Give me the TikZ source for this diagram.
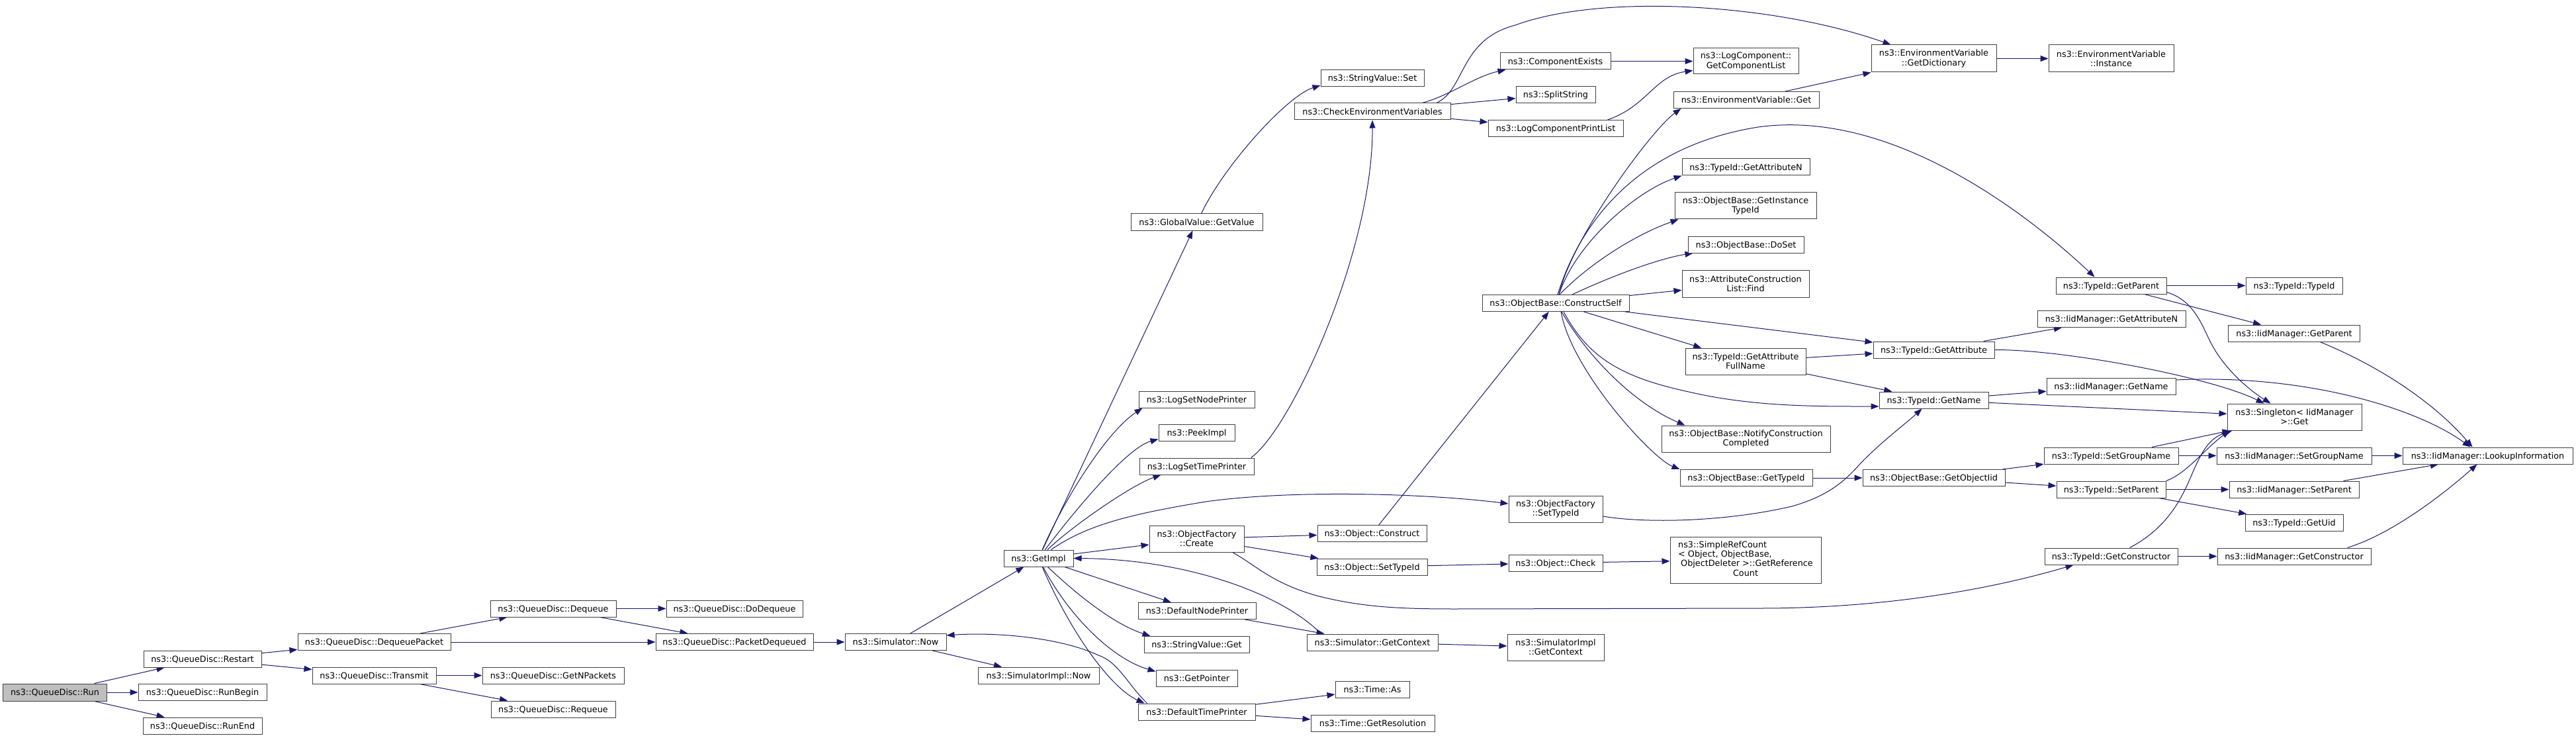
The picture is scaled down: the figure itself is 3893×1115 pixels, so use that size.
\documentclass[tikz,border=0pt]{standalone}
\usepackage{fontspec}
\setmainfont{DejaVu Sans}
\usetikzlibrary{arrows.meta,calc}
\definecolor{edgeblue}{HTML}{191970}
\definecolor{nodegray}{HTML}{404040}
\definecolor{rootfill}{HTML}{BFBFBF}
\newcommand\fnt{\fontsize{12.8}{14.2}\selectfont}
\pgfdeclarelayer{edgelayer}
\pgfsetlayers{edgelayer,main}
\tikzset{
  fnode/.style={draw=nodegray, line width=1pt, fill=white, inner xsep=2pt, inner ysep=0pt,
    minimum height=25pt, font=\fnt, text height=9.3pt, text depth=0pt},
  fnodem/.style={draw=nodegray, line width=1pt, fill=white, inner xsep=2pt, inner ysep=0pt,
    minimum height=40pt, font=\fnt, align=center},
  wd/.style={minimum width=#1},
  callarrow/.style={draw=edgeblue, line width=1pt, -{Triangle[length=12pt,width=9pt]}}
}
\begin{document}
\begin{tikzpicture}[x=1pt,y=-1pt]
\useasboundingbox (0,0) rectangle (3893,1115);
% ---------- nodes ----------
\node[fnode,wd=157,fill=rootfill,minimum height=26pt] (Run) at (83,1046) {ns3::QueueDisc::Run};
\node[fnode,wd=178] (Restart) at (306,995.5) {ns3::QueueDisc::Restart};
\node[fnode,wd=194] (RunBegin) at (306,1046) {ns3::QueueDisc::RunBegin};
\node[fnode,wd=180] (RunEnd) at (306,1096.5) {ns3::QueueDisc::RunEnd};
\node[fnode,wd=231] (DequeuePacket) at (565.5,970) {ns3::QueueDisc::DequeuePacket};
\node[fnode,wd=187] (Transmit) at (565.5,1020.5) {ns3::QueueDisc::Transmit};
\node[fnode,wd=190] (Dequeue) at (836,919.5) {ns3::QueueDisc::Dequeue};
\node[fnode,wd=214] (GetNPackets) at (836,1020.5) {ns3::QueueDisc::GetNPackets};
\node[fnode,wd=188] (Requeue) at (836,1071.5) {ns3::QueueDisc::Requeue};
\node[fnode,wd=206] (DoDequeue) at (1110,919.5) {ns3::QueueDisc::DoDequeue};
\node[fnode,wd=238] (PacketDequeued) at (1110,970) {ns3::QueueDisc::PacketDequeued};
\node[fnode,wd=153] (SimNow) at (1353.5,970) {ns3::Simulator::Now};
\node[fnode,wd=105] (GetImpl) at (1569.5,843.5) {ns3::GetImpl};
\node[fnode,wd=183] (SimImplNow) at (1569.5,1020.5) {ns3::SimulatorImpl::Now};
\node[fnode,wd=199] (GVGetValue) at (1808.5,335.5) {ns3::GlobalValue::GetValue};
\node[fnode,wd=175] (LSNP) at (1808.5,603.5) {ns3::LogSetNodePrinter};
\node[fnode,wd=115] (PeekImpl) at (1808.5,653.5) {ns3::PeekImpl};
\node[fnode,wd=173] (LSTP) at (1808.5,704.5) {ns3::LogSetTimePrinter};
\node[fnodem,wd=143] (OFCreate) at (1808.5,814) {ns3::ObjectFactory\\::Create};
\node[fnode,wd=178] (DNP) at (1809,923) {ns3::DefaultNodePrinter};
\node[fnode,wd=159] (SVGet) at (1808.5,974) {ns3::StringValue::Get};
\node[fnode,wd=123] (GetPointer) at (1808.5,1024.5) {ns3::GetPointer};
\node[fnode,wd=177] (DTP) at (1808.5,1075.5) {ns3::DefaultTimePrinter};
\node[fnode,wd=156] (SVSet) at (2074,118) {ns3::StringValue::Set};
\node[fnode,wd=236] (CEV) at (2074,168.5) {ns3::CheckEnvironmentVariables};
\node[fnode,wd=165] (ObjConstruct) at (2073.5,806) {ns3::Object::Construct};
\node[fnode,wd=167] (ObjSetTypeId) at (2073.5,856.5) {ns3::Object::SetTypeId};
\node[fnode,wd=198] (SGC) at (2074,970.5) {ns3::Simulator::GetContext};
\node[fnode,wd=112] (TimeAs) at (2074,1042) {ns3::Time::As};
\node[fnode,wd=187] (TimeGetRes) at (2074.5,1093) {ns3::Time::GetResolution};
\node[fnode,wd=167] (ComponentExists) at (2350.5,92.5) {ns3::ComponentExists};
\node[fnode,wd=120] (SplitString) at (2351,143) {ns3::SplitString};
\node[fnode,wd=204] (LCPL) at (2351,194) {ns3::LogComponentPrintList};
\node[fnode,wd=222] (CS) at (2351,458) {ns3::ObjectBase::ConstructSelf};
\node[fnodem,wd=142] (OFSetTypeId) at (2351,769) {ns3::ObjectFactory\\::SetTypeId};
\node[fnode,wd=142] (ObjCheck) at (2351,850.5) {ns3::Object::Check};
\node[fnodem,wd=146] (SIGetContext) at (2351,978) {ns3::SimulatorImpl\\::GetContext};
\node[fnodem,wd=159,minimum height=39pt] (GCL) at (2638.5,92.5) {ns3::LogComponent::\\GetComponentList};
\node[fnode,wd=220] (EVGet) at (2639,151) {ns3::EnvironmentVariable::Get};
\node[fnode,wd=193] (TIGetAttributeN) at (2638.5,252.5) {ns3::TypeId::GetAttributeN};
\node[fnodem,wd=214] (GITI) at (2638,311) {ns3::ObjectBase::GetInstance\\TypeId};
\node[fnode,wd=175] (DoSet) at (2638.5,369.5) {ns3::ObjectBase::DoSet};
\node[fnodem,wd=192,minimum height=41pt] (ACLFind) at (2638,428.5) {ns3::AttributeConstruction\\List::Find};
\node[fnodem,wd=182] (GAFN) at (2638,546) {ns3::TypeId::GetAttribute\\FullName};
\node[fnodem,wd=255] (NotifyCC) at (2638.5,663) {ns3::ObjectBase::NotifyConstruction\\Completed};
\node[fnode,wd=200] (OBGetTypeId) at (2639,722) {ns3::ObjectBase::GetTypeId};
\node[fnodem,wd=228,minimum height=70pt] (SRC) at (2638,846) {\begin{tabular}{@{}l@{}}ns3::SimpleRefCount\\< Object, ObjectBase,\\\hspace{4pt}ObjectDeleter >::GetReference\\\multicolumn{1}{@{}c@{}}{Count}\end{tabular}};
\node[fnodem,wd=189,minimum height=41pt] (GetDictionary) at (2922.5,88.5) {ns3::EnvironmentVariable\\::GetDictionary};
\node[fnode,wd=183] (TIGetAttribute) at (2922.5,528.5) {ns3::TypeId::GetAttribute};
\node[fnode,wd=165] (TIGetName) at (2922.5,604.5) {ns3::TypeId::GetName};
\node[fnode,wd=215] (GetObjectIid) at (2922.5,722) {ns3::ObjectBase::GetObjectIid};
\node[fnodem,wd=189,minimum height=41pt] (EVInstance) at (3190.5,88.5) {ns3::EnvironmentVariable\\::Instance};
\node[fnode,wd=167] (TIGetParent) at (3190.5,431.5) {ns3::TypeId::GetParent};
\node[fnode,wd=224] (IMGetAttributeN) at (3191,482) {ns3::IidManager::GetAttributeN};
\node[fnode,wd=195] (IMGetName) at (3190.5,583.5) {ns3::IidManager::GetName};
\node[fnode,wd=203] (TISetGroupName) at (3190.5,688.5) {ns3::TypeId::SetGroupName};
\node[fnode,wd=165] (TISetParent) at (3190.5,739.5) {ns3::TypeId::SetParent};
\node[fnode,wd=201] (TIGetConstructor) at (3190.5,840.5) {ns3::TypeId::GetConstructor};
\node[fnode,wd=146] (TITypeId) at (3467,431.5) {ns3::TypeId::TypeId};
\node[fnode,wd=199] (IMGetParent) at (3467,503.5) {ns3::IidManager::GetParent};
\node[fnodem,wd=203] (Singleton) at (3467.5,630) {ns3::Singleton< IidManager\\>::Get};
\node[fnode,wd=234] (IMSetGroupName) at (3467,688.5) {ns3::IidManager::SetGroupName};
\node[fnode,wd=196] (IMSetParent) at (3467,739.5) {ns3::IidManager::SetParent};
\node[fnode,wd=148] (TIGetUid) at (3467,789.5) {ns3::TypeId::GetUid};
\node[fnode,wd=232] (IMGetConstructor) at (3467,840.5) {ns3::IidManager::GetConstructor};
\node[fnode,wd=257] (Lookup) at (3759.5,688.5) {ns3::IidManager::LookupInformation};
% ---------- edges ----------
\begin{pgfonlayer}{edgelayer}
\draw[callarrow] (Run) -- (Restart);
\draw[callarrow] (Run) -- (RunBegin);
\draw[callarrow] (Run) -- (RunEnd);
\draw[callarrow] (Restart) -- (DequeuePacket);
\draw[callarrow] (Restart) -- (Transmit);
\draw[callarrow] (DequeuePacket) -- (Dequeue);
\draw[callarrow] (DequeuePacket) -- (PacketDequeued);
\draw[callarrow] (Transmit) -- (GetNPackets);
\draw[callarrow] (Transmit) -- (Requeue);
\draw[callarrow] (Dequeue) -- (DoDequeue);
\draw[callarrow] (Dequeue) -- (PacketDequeued);
\draw[callarrow] (PacketDequeued) -- (SimNow);
\draw[callarrow] (SimNow) -- (GetImpl);
\draw[callarrow] (SimNow) -- (SimImplNow);
% GetImpl fan
\draw[callarrow] (GetImpl) -- (GVGetValue);
\draw[callarrow] (GetImpl) .. controls (1610,751) and (1673,652) .. ($(LSNP.south west)+(6,0)$);
\draw[callarrow] (GetImpl) .. controls (1617,781) and (1701,677) .. ($(PeekImpl.south west)+(0,-3)$);
\draw[callarrow] (GetImpl) .. controls (1620,795) and (1710,733) .. ($(LSTP.south west)+(33,0)$);
\draw[callarrow] (GetImpl) .. controls (1640,795) and (1700,778) .. (1822,758) .. controls (1950,740) and (2150,745) .. ($(OFSetTypeId.west)+(0,-8)$);
\draw[callarrow] (GetImpl) -- (OFCreate);
\draw[callarrow] (GetImpl) -- (DNP);
\draw[callarrow] (GetImpl) .. controls (1640,910) and (1690,945) .. ($(SVGet.north west)+(10,0)$);
\draw[callarrow] (GetImpl) .. controls (1615,930) and (1680,995) .. ($(GetPointer.north west)+(0,3)$);
\draw[callarrow] (GetImpl) .. controls (1620,960) and (1680,1040) .. ($(DTP.north west)+(10,0)$);
\draw[callarrow] ($(DTP.north west)+(14,0)$) .. controls (1705,1035) and (1690,1000) .. (1660,990) .. controls (1600,962) and (1500,955) .. ($(SimNow.east)+(0,-10)$);
\draw[callarrow] ($(SGC.north west)+(22,0)$) .. controls (1940,900) and (1800,845) .. (GetImpl.east);
\draw[callarrow] (DNP) -- (SGC);
\draw[callarrow] (DTP) -- (TimeAs);
\draw[callarrow] (DTP) -- (TimeGetRes);
\draw[callarrow] (OFCreate) -- (ObjConstruct);
\draw[callarrow] (OFCreate) -- (ObjSetTypeId);
\draw[callarrow] ($(OFCreate.south east)+(-18,0)$) .. controls (1900,855) and (1920,880) .. (1990,900) .. controls (2060,918) and (2120,920) .. (2200,920) -- (2660,919) .. controls (2850,919) and (3010,890) .. ($(TIGetConstructor.south west)+(44,0)$);
\draw[callarrow] ($(GVGetValue.north)+(7,0)$) .. controls (1850,250) and (1945,145) .. ($(SVSet.south west)+(0,-2)$);
\draw[callarrow] ($(LSTP.north east)+(-5,0)$) .. controls (1950,650) and (2075,380) .. (CEV.south);
\draw[callarrow] (ObjSetTypeId) -- (ObjCheck);
\draw[callarrow] (ObjCheck) -- (SRC);
\draw[callarrow] (SGC) -- (SIGetContext);
\draw[callarrow] (ObjConstruct) -- (CS);
% CheckEnvironmentVariables
\draw[callarrow] ($(CEV.north)+(97,0)$) .. controls (2215,135) and (2205,60) .. (2290,38) .. controls (2420,-10) and (2680,5) .. ($(GetDictionary.north west)+(30,0)$);
\draw[callarrow] ($(CEV.north)+(75,0)$) .. controls (2190,145) and (2230,115) .. ($(ComponentExists.south west)+(9,0)$);
\draw[callarrow] (CEV) -- (SplitString);
\draw[callarrow] (CEV) -- (LCPL);
\draw[callarrow] (ComponentExists) -- (GCL);
\draw[callarrow] ($(LCPL.north east)+(-24,0)$) .. controls (2490,160) and (2500,115) .. ($(GCL.west)+(0,14)$);
\draw[callarrow] (EVGet) -- (GetDictionary);
\draw[callarrow] (GetDictionary) -- (EVInstance);
% ConstructSelf
\draw[callarrow] ($(CS.north)+(5,0)$) .. controls (2375,360) and (2496,196) .. ($(EVGet.south west)+(12,0)$);
\draw[callarrow] ($(CS.north)+(3,0)$) .. controls (2390,330) and (2480,220) .. (2657,192) .. controls (2850,165) and (3050,310) .. ($(TIGetParent.north)+(-25,0)$);
\draw[callarrow] ($(CS.north)+(5,0)$) .. controls (2380,370) and (2470,290) .. (TIGetAttributeN.south west);
\draw[callarrow] ($(CS.north)+(6,0)$) .. controls (2400,400) and (2470,355) .. ($(GITI.south west)+(6,0)$);
\draw[callarrow] ($(CS.north)+(25,0)$) .. controls (2440,415) and (2510,390) .. ($(DoSet.south west)+(8,0)$);
\draw[callarrow] (CS) -- (ACLFind);
\draw[callarrow] (CS) -- (TIGetAttribute);
\draw[callarrow] (CS) -- (GAFN);
\draw[callarrow] ($(CS.south)+(8,0)$) .. controls (2375,560) and (2496,692) .. (OBGetTypeId.north west);
\draw[callarrow] ($(CS.south)+(9,0)$) .. controls (2400,540) and (2470,610) .. ($(NotifyCC.north west)+(36,0)$);
\draw[callarrow] ($(CS.south)+(12,0)$) .. controls (2400,540) and (2450,570) .. (2552,592) .. controls (2650,615) and (2750,614) .. ($(TIGetName.west)+(0,9.5)$);
\draw[callarrow] (OBGetTypeId) -- (GetObjectIid);
\draw[callarrow] ($(OFSetTypeId.east)+(0,11)$) .. controls (2480,790) and (2600,790) .. (2708,765) .. controls (2760,750) and (2785,730) .. (2810,702) .. controls (2840,670) and (2880,640) .. ($(TIGetName.south)+(-18,0)$);
% right part
\draw[callarrow] (GAFN) -- (TIGetAttribute);
\draw[callarrow] (GAFN) -- (TIGetName);
\draw[callarrow] (TIGetAttribute) -- (IMGetAttributeN);
\draw[callarrow] (TIGetAttribute.east) .. controls (3120,528) and (3342,570) .. ($(Singleton.north west)+(56,0)$);
\draw[callarrow] (TIGetName) -- (IMGetName);
\draw[callarrow] (TIGetName) -- (Singleton);
\draw[callarrow] ($(IMGetName.east)+(0,-9.5)$) .. controls (3480,565) and (3650,615) .. ($(Lookup.north west)+(103,0)$);
\draw[callarrow] (TIGetParent) -- (TITypeId);
\draw[callarrow] (TIGetParent) -- (IMGetParent);
\draw[callarrow] ($(TIGetParent.east)+(0,10)$) .. controls (3320,455) and (3330,500) .. (3345,525) .. controls (3365,560) and (3400,590) .. ($(Singleton.north west)+(66,0)$);
\draw[callarrow] ($(IMGetParent.south)+(39,0)$) .. controls (3600,555) and (3680,610) .. ($(Lookup.north west)+(106,0)$);
\draw[callarrow] (GetObjectIid) -- (TISetGroupName);
\draw[callarrow] (GetObjectIid) -- (TISetParent);
\draw[callarrow] (TISetGroupName) -- (Singleton);
\draw[callarrow] (TISetGroupName) -- (IMSetGroupName);
\draw[callarrow] (TISetParent.north east) .. controls (3305,715) and (3330,680) .. ($(Singleton.south west)+(4,0)$);
\draw[callarrow] (TISetParent) -- (IMSetParent);
\draw[callarrow] (TISetParent) -- (TIGetUid);
\draw[callarrow] ($(TIGetConstructor.north)+(28,0)$) .. controls (3290,790) and (3305,730) .. (3320,700) .. controls (3333,672) and (3345,660) .. ($(Singleton.south west)+(8,0)$);
\draw[callarrow] (TIGetConstructor) -- (IMGetConstructor);
\draw[callarrow] (IMSetGroupName) -- (Lookup);
\draw[callarrow] (IMSetParent) -- (Lookup);
\draw[callarrow] ($(IMGetConstructor.north east)+(-36,0)$) .. controls (3620,805) and (3700,740) .. ($(Lookup.south west)+(113,0)$);
\end{pgfonlayer}
\end{tikzpicture}
\end{document}
